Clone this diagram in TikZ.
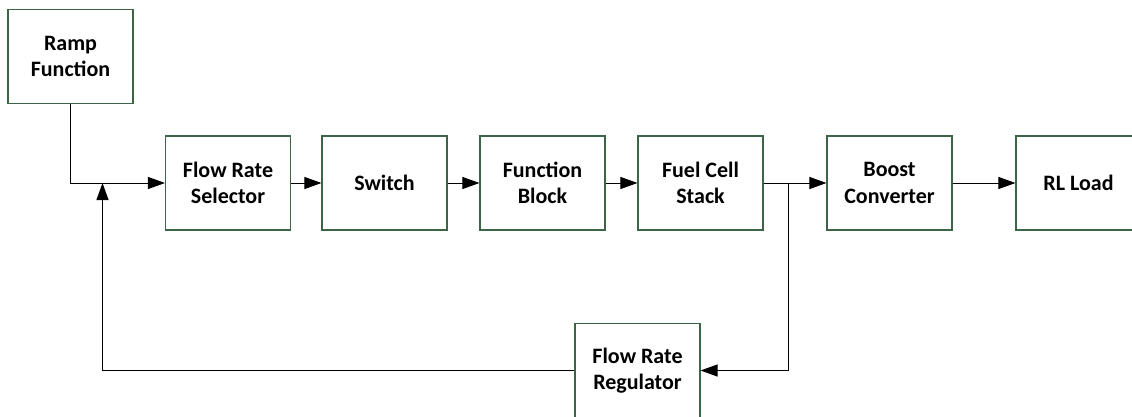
\documentclass[tikz,border=0pt]{standalone}
\usepackage{fontspec}
\setmainfont{Carlito}
\usetikzlibrary{arrows.meta}
\definecolor{boxgreen}{RGB}{62,100,72}
\tikzset{
  blk/.style={draw=boxgreen, line width=1.1pt, minimum width=125pt, minimum height=94pt,
    inner sep=0pt, align=center, font=\fontsize{22}{26.5}\selectfont\bfseries},
  conn/.style={draw=black, line width=1pt, -{Triangle[length=17pt,width=12pt]}},
  plain/.style={draw=black, line width=1pt}
}
\begin{document}
\begin{tikzpicture}[x=1pt,y=-1pt]
\useasboundingbox (0,0) rectangle (1132,417);
\node[blk] (ramp) at (70.5,56.5) {Ramp\\Function};
\node[blk] (frs) at (228,183) {Flow Rate\\Selector};
\node[blk] (sw) at (384.5,183) {Switch};
\node[blk] (fb) at (542.5,183) {Function\\Block};
\node[blk] (fcs) at (700.5,183) {Fuel Cell\\Stack};
\node[blk] (bc) at (889.5,183) {Boost\\Converter};
\node[blk] (rl) at (1078.5,183) {RL Load};
\node[blk] (reg) at (637.5,370.5) {Flow Rate\\Regulator};
\coordinate (fbk) at (102.5,183);
\coordinate (br) at (788,183);
\draw[conn] (ramp.south) |- (frs.west);
\draw[conn] (reg.west) -| (fbk);
\draw[conn] (frs.east) -- (sw.west);
\draw[conn] (sw.east) -- (fb.west);
\draw[conn] (fb.east) -- (fcs.west);
\draw[conn] (fcs.east) -- (bc.west);
\draw[conn] (bc.east) -- (rl.west);
\draw[conn] (br) |- (reg.east);
\end{tikzpicture}
\end{document}
